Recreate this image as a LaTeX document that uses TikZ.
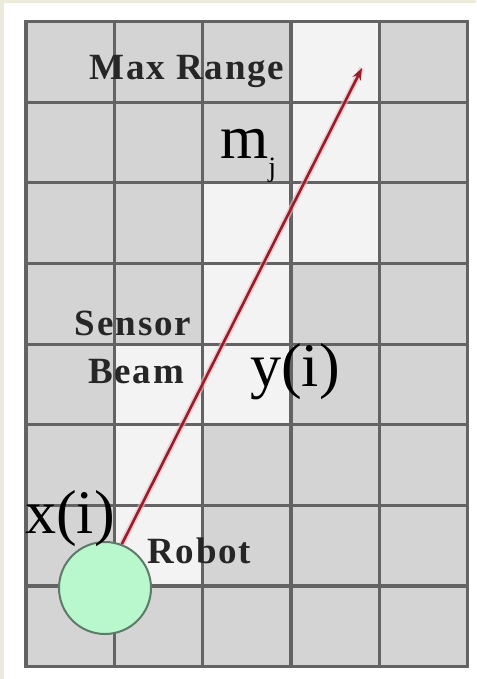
\documentclass[tikz,border=0pt]{standalone}
\usepackage{fontspec}
\setmainfont{Liberation Serif}
\newfontfamily\etiketFont[LetterSpace=5]{Liberation Serif}
\usepackage{tikz}
\usetikzlibrary{arrows.meta}
\definecolor{kagitBej}{HTML}{ECEADB}
\definecolor{hucreGri}{HTML}{D4D4D4}
\definecolor{hucreAcik}{HTML}{F3F3F3}
\definecolor{izgaraGri}{HTML}{636363}
\definecolor{robotYesil}{HTML}{B9F7CD}
\definecolor{robotKenar}{HTML}{5E7A68}
\definecolor{isinKirmizi}{HTML}{9A1C28}
\definecolor{isinPembe}{HTML}{F4B8C0}

\begin{document}
\begin{tikzpicture}[x=1pt,y=-1pt,
  etiket/.style={inner sep=0pt,text=black!85,font=\etiketFont\bfseries\fontsize{37}{37}\selectfont},
  buyuk/.style={inner sep=0pt,font=\fontsize{62}{62}\selectfont}]
\useasboundingbox (0,0) rectangle (476,679);
\fill[kagitBej] (0,0) rectangle (476,679);
\fill[white] (4,3) rectangle (476,679);
\fill[hucreGri] (26,21.5) rectangle (467.5,666.7);
\foreach \c/\r in {3/0,3/1,2/2,3/2,2/3,1/4,2/4,1/5,1/6}
  \fill[hucreAcik] ({26+88.3*\c},{21.5+80.65*\r}) rectangle ++(88.3,80.65);
\foreach \i in {0,...,5}
  \draw[izgaraGri,line width=3.2pt,line cap=rect] ({26+88.3*\i},21.5) -- ++(0,645.2);
\foreach \j in {0,...,8}
  \draw[izgaraGri,line width=3.2pt,line cap=rect] (26,{21.5+80.65*\j}) -- ++(441.5,0);
\node[circle,draw=robotKenar,fill=robotYesil,line width=2pt,minimum size=92pt,inner sep=0pt] (robot) at (105,588) {};
\coordinate (menzil) at (362,68);
\draw[isinPembe,line width=6pt,opacity=0.6] (robot.69) -- (menzil);
\draw[isinKirmizi,line width=2.6pt,-{Stealth[length=12pt,width=9pt]}] (robot.69) -- (menzil);
\node[etiket,anchor=base] (maxr) at (187,80) {Max Range};
\node[etiket,anchor=base] (sensor) at (133,335) {Sensor};
\node[etiket,anchor=base] (beam) at (136,383) {Beam};
\node[etiket,anchor=base west] (robotlbl) at (147,563) {Robot};
\node[buyuk,anchor=base west] (mj) at (220,158) {m\raisebox{-18pt}{\fontsize{28}{28}\selectfont j}};
\node[buyuk,anchor=base west] (yi) at (250,386) {y(i)};
\node[buyuk,anchor=base west] (xi) at (25,533) {x(i)};
\end{tikzpicture}
\end{document}
